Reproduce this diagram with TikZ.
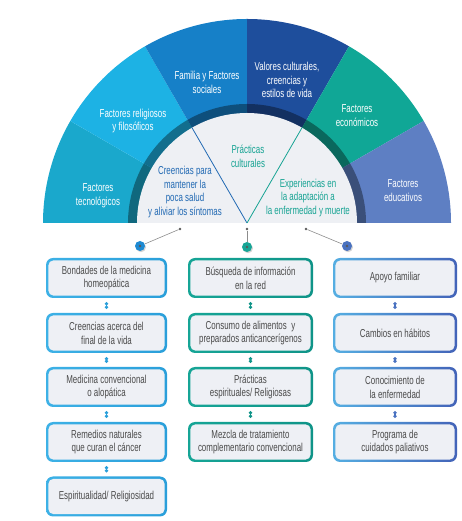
\documentclass[tikz,border=0pt]{standalone}
\usepackage{fontspec}
\setmainfont[FakeStretch=0.69]{Liberation Sans}
\usetikzlibrary{arrows.meta,shadows}
\definecolor{cTec}{HTML}{1AA8CC}
\definecolor{cRel}{HTML}{1DB2E4}
\definecolor{cFam}{HTML}{1680C8}
\definecolor{cVal}{HTML}{1E4E9C}
\definecolor{cEco}{HTML}{10A796}
\definecolor{cEdu}{HTML}{5E7FC3}
\definecolor{cIn}{HTML}{EEF0F4}
\definecolor{cBlueTxt}{HTML}{2169B3}
\definecolor{cTealTxt}{HTML}{16A393}
\definecolor{cBoxFill}{HTML}{EEF0F5}
\definecolor{cLeftA}{HTML}{3DB1E6}
\definecolor{cLeftB}{HTML}{2A9FDA}
\definecolor{cMidA}{HTML}{16A596}
\definecolor{cMidB}{HTML}{0F9488}
\definecolor{cRightA}{HTML}{55AEE2}
\definecolor{cRightB}{HTML}{4363B8}
\definecolor{cTxt}{HTML}{4A4A4A}
\definecolor{cDotL}{HTML}{1E8AD2}
\definecolor{cDotM}{HTML}{17A596}
\definecolor{cDotR}{HTML}{4A72C0}
\begin{document}
\begin{tikzpicture}[x=1pt,y=1pt,
  outertxt/.style={text=white,align=center,font=\fontsize{11.5}{13.8}\selectfont,inner sep=0pt},
  innertxt/.style={align=center,font=\fontsize{11.5}{13.8}\selectfont,inner sep=0pt},
  box/.style 2 args={left color=#1,right color=#2,draw=none,rounded corners=7pt,minimum height=40pt,
    align=center,text=cTxt,font=\fontsize{11.5}{13.8}\selectfont,inner sep=2pt,
    path picture={\fill[cBoxFill,rounded corners=5pt]
      ([shift={(2.4pt,2.4pt)}]path picture bounding box.south west) rectangle
      ([shift={(-2.4pt,-2.4pt)}]path picture bounding box.north east);}},
  bigdot/.style={circle,minimum size=10pt,inner sep=0pt,drop shadow={opacity=0.35,shadow xshift=1pt,shadow yshift=-1.2pt}},
  smalldot/.style={circle,fill=black!65,minimum size=2.8pt,inner sep=0pt},
  link/.style={draw=black!45,line width=0.6pt},
  dotlink/.style={draw=#1,fill=#1,line width=1.1pt,{Circle[length=3.2pt]}-{Circle[length=3.2pt]},shorten <=4pt,shorten >=4pt}]
\useasboundingbox (0,0) rectangle (461,521);
\coordinate (C) at (247,298);
% outer segments
\foreach \a/\c in {150/cTec,120/cRel,90/cFam,60/cVal,30/cEco,0/cEdu}{
  \fill[\c] (C) -- ++(\a:204) arc[start angle=\a,delta angle=30,radius=204] -- cycle;
}
% dark ring
\foreach \a/\c in {150/cTec,120/cRel,90/cFam,60/cVal,30/cEco,0/cEdu}{
  \fill[\c!62!black] (C) -- ++(\a:119) arc[start angle=\a,delta angle=30,radius=119] -- cycle;
}
% inner light region
\fill[cIn] (C) -- ++(0:110) arc[start angle=0,end angle=180,radius=110] -- cycle;
\draw[cBlueTxt,line width=0.8pt] (C) -- ++(120:110);
\draw[cTealTxt,line width=0.8pt] (C) -- ++(60:110);
% outer texts
\node[outertxt] (tTec) at (98,325) {Factores\\tecnológicos};
\node[outertxt] (tRel) at (133,400) {Factores religiosos\\y filosóficos};
\node[outertxt] (tFam) at (207,439) {Familia y Factores\\sociales};
\node[outertxt] (tVal) at (287,441) {Valores culturales,\\creencias y\\estilos de vida};
\node[outertxt] (tEco) at (357,405) {Factores\\económicos};
\node[outertxt] (tEdu) at (403,330) {Factores\\educativos};
% inner texts
\node[innertxt,text=cBlueTxt] (iCre) at (185,329) {Creencias para\\mantener la\\poca salud\\y aliviar los síntomas};
\node[innertxt,text=cTealTxt] (iPra) at (248,365) {Prácticas\\culturales};
\node[innertxt,text=cTealTxt] (iExp) at (308,323) {Experiencias en\\la adaptación a\\la enfermedad y muerte};
% heading dots
\node[smalldot] (sL) at (180,292) {};
\node[smalldot] (sM) at (247,292) {};
\node[smalldot] (sR) at (306,292) {};
\node[bigdot,fill=cDotL] (dL) at (140,275) {};
\node[bigdot,fill=cDotM] (dM) at (247,274) {};
\node[bigdot,fill=cDotR] (dR) at (347,275) {};
\draw[link] (sL) -- (dL);
\draw[link] (sM) -- (dM);
\draw[link] (sR) -- (dR);
\node[smalldot] at (dL) {};
\node[smalldot] at (dM) {};
\node[smalldot] at (dR) {};
% left column
\node[box={cLeftA}{cLeftB},minimum width=121pt] (l1) at (106.5,243) {Bondades de la medicina\\homeopática};
\node[box={cLeftA}{cLeftB},minimum width=121pt] (l2) at (106.5,188) {Creencias acerca del\\final de la vida};
\node[box={cLeftA}{cLeftB},minimum width=121pt] (l3) at (106.5,134) {Medicina convencional\\o alopática};
\node[box={cLeftA}{cLeftB},minimum width=121pt] (l4) at (106.5,79) {Remedios naturales\\que curan el cáncer};
\node[box={cLeftA}{cLeftB},minimum width=121pt] (l5) at (106.5,24.5) {Espiritualidad/ Religiosidad};
% middle column
\node[box={cMidA}{cMidB},minimum width=125pt] (m1) at (250.5,243) {Búsqueda de información\\en la red};
\node[box={cMidA}{cMidB},minimum width=125pt] (m2) at (250.5,188) {Consumo de alimentos\ \ y\\preparados anticancerígenos};
\node[box={cMidA}{cMidB},minimum width=125pt] (m3) at (250.5,134) {Prácticas\\espirituales/ Religiosas};
\node[box={cMidA}{cMidB},minimum width=125pt] (m4) at (250.5,79) {Mezcla de tratamiento\\complementario convencional};
% right column
\node[box={cRightA}{cRightB},minimum width=124pt] (r1) at (395,243) {Apoyo familiar};
\node[box={cRightA}{cRightB},minimum width=124pt] (r2) at (395,188) {Cambios en hábitos};
\node[box={cRightA}{cRightB},minimum width=124pt] (r3) at (395,134) {Conocimiento de\\la enfermedad};
\node[box={cRightA}{cRightB},minimum width=124pt] (r4) at (395,79) {Programa de\\cuidados paliativos};
% dotted connectors
\draw[dotlink=cLeftB] (l1) -- (l2);
\draw[dotlink=cLeftB] (l2) -- (l3);
\draw[dotlink=cLeftB] (l3) -- (l4);
\draw[dotlink=cLeftB] (l4) -- (l5);
\draw[dotlink=cMidB] (m1) -- (m2);
\draw[dotlink=cMidB] (m2) -- (m3);
\draw[dotlink=cMidB] (m3) -- (m4);
\draw[dotlink=cDotR] (r1) -- (r2);
\draw[dotlink=cDotR] (r2) -- (r3);
\draw[dotlink=cDotR] (r3) -- (r4);
\end{tikzpicture}
\end{document}
